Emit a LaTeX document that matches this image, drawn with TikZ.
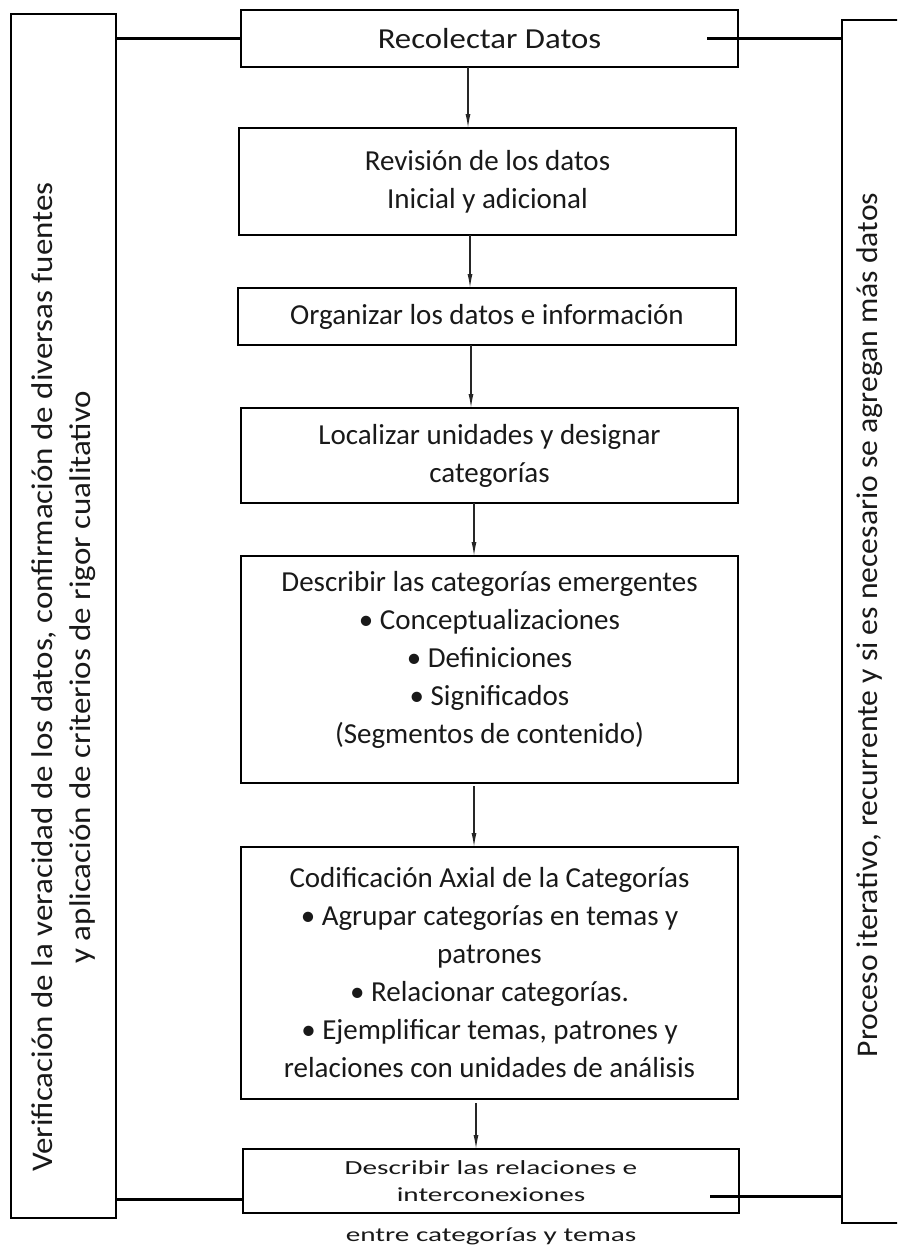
\documentclass[tikz,border=0pt]{standalone}
\usepackage{fontspec}
\setmainfont{Carlito}
\usepackage{graphicx}
\usetikzlibrary{arrows.meta}
\newcommand\widetxt[1]{\scalebox{1.46}[1]{#1}}
\newcommand\sidetxt[2]{\scalebox{#1}[1]{#2}}
\begin{document}
\begin{tikzpicture}[x=1pt,y=-1pt,
  box/.style={draw=black, line width=1.6pt, inner sep=0pt, outer sep=0pt, align=center,
    anchor=north west, text=black!90, font=\fontsize{29}{38}\selectfont},
  sidebox/.style={draw=black, line width=1.6pt, inner sep=0pt, outer sep=0pt, anchor=north west, text=black!90},
  link/.style={line width=3pt, draw=black},
  arr/.style={line width=1.2pt, draw=black!85, -{Latex[length=14pt,width=5pt]}}]
\useasboundingbox (0,0) rectangle (897,1245);
\clip (0,0) rectangle (897,1245);

% side boxes
\node[sidebox, minimum width=105pt, minimum height=1204pt] (lft) at (11,14)
  {\rotatebox{90}{\parbox{1150pt}{\centering\fontsize{30}{38}\selectfont
   \hspace*{-122pt}\sidetxt{1.1}{Verificación de la veracidad de los datos, confirmación de diversas fuentes}\\
   \hspace*{-122pt}\sidetxt{1.1}{y aplicación de criterios de rigor cualitativo}}}};
\node[sidebox, minimum width=70pt, minimum height=1203pt] (rgt) at (842,20)
  {\hspace*{-14pt}\rotatebox{90}{\fontsize{30}{38}\selectfont\hspace*{-7pt}\sidetxt{1.055}{Proceso iterativo, recurrente y si es necesario se agregan más datos}}};

% main boxes
\node[box, minimum width=497pt, minimum height=57pt] (rec) at (241,10) {\scalebox{1.13}[1]{Recolectar Datos}};
\node[box, minimum width=497pt, minimum height=107pt] (rev) at (239,128)
  {Revisión de los datos\\Inicial y adicional};
\node[box, minimum width=498pt, minimum height=57pt] (org) at (238,288)
  {Organizar los datos e información};
\node[box, minimum width=497pt, minimum height=95pt] (loc) at (241,408)
  {Localizar unidades y designar\\categorías};
\node[box, minimum width=497pt, minimum height=227pt] (des) at (241,556)
  {Describir las categorías emergentes\\• Conceptualizaciones\\• Definiciones\\• Significados\\(Segmentos de contenido)\\[-13pt]\mbox{}};
\node[box, minimum width=497pt, minimum height=252pt] (cod) at (241,847)
  {Codificación Axial de la Categorías\\• Agrupar categorías en temas y\\patrones\\• Relacionar categorías.\\• Ejemplificar temas, patrones y\\relaciones con unidades de análisis};
\node[box, minimum width=496pt, minimum height=64pt, font=\fontsize{20}{27}\selectfont] (rel) at (243,1149)
  {\widetxt{Describir las relaciones e}\\\widetxt{interconexiones}};
\node[inner sep=0pt, text=black!90, font=\fontsize{20}{27}\selectfont] (ent) at (491,1236)
  {\widetxt{entre categorías y temas}};

% arrows
\draw[arr] (rec.south -| 468,0) -- (rev.north -| 468,0);
\draw[arr] (rev.south -| 470,0) -- (org.north -| 470,0);
\draw[arr] (org.south -| 471,0) -- (loc.north -| 471,0);
\draw[arr] (loc.south -| 474,0) -- (des.north -| 474,0);
\draw[arr] ([yshift=-3pt]des.south -| 474,0) -- (cod.north -| 474,0);
\draw[arr] ([yshift=-4pt]cod.south -| 476,0) -- (rel.north -| 476,0);

% side connectors
\draw[link] (rec.west) -- (rec.west -| lft.east);
\draw[link] ([xshift=-31pt]rec.east) -- (rec.east -| rgt.west);
\draw[link] ([yshift=14pt]rel.south west) -- ([yshift=14pt]rel.south west -| lft.east);
\draw[link] ([xshift=-29pt,yshift=17pt]rel.south east) -- ([yshift=17pt]rel.south east -| rgt.west);
\end{tikzpicture}
\end{document}
